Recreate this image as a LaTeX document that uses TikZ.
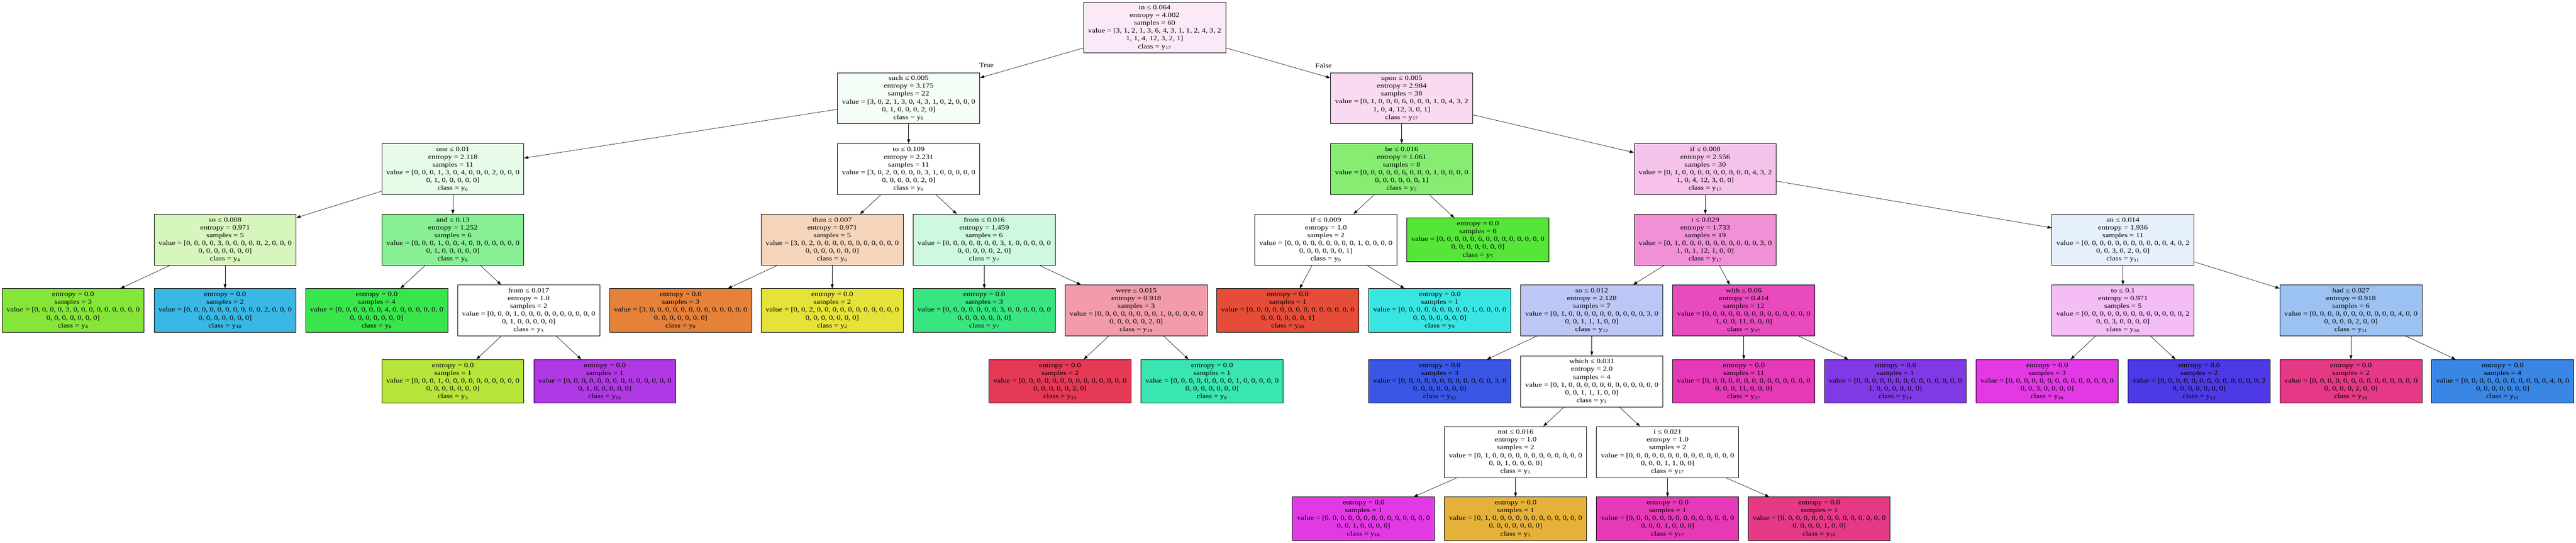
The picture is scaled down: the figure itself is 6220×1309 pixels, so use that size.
\documentclass[tikz,border=0pt]{standalone}
\usepackage{fontspec}
\setmainfont{Liberation Serif}[FakeStretch=1.2]
\usepackage{tikz}
\usetikzlibrary{arrows.meta}
\usepackage{xcolor}
\definecolor{cls0}{HTML}{E58139}
\definecolor{cls1}{HTML}{E5B139}
\definecolor{cls2}{HTML}{E5E239}
\definecolor{cls3}{HTML}{B7E539}
\definecolor{cls4}{HTML}{86E539}
\definecolor{cls5}{HTML}{56E539}
\definecolor{cls6}{HTML}{39E54D}
\definecolor{cls7}{HTML}{39E581}
\definecolor{cls8}{HTML}{39E5B1}
\definecolor{cls9}{HTML}{39E5E2}
\definecolor{cls10}{HTML}{39B7E5}
\definecolor{cls11}{HTML}{3986E5}
\definecolor{cls12}{HTML}{3956E5}
\definecolor{cls13}{HTML}{4D39E5}
\definecolor{cls14}{HTML}{8139E5}
\definecolor{cls15}{HTML}{B139E5}
\definecolor{cls16}{HTML}{E239E5}
\definecolor{cls17}{HTML}{E539B7}
\definecolor{cls18}{HTML}{E53986}
\definecolor{cls19}{HTML}{E53956}
\definecolor{cls20}{HTML}{E54D39}
\definecolor{n0}{HTML}{FCE9F7}
\definecolor{n1}{HTML}{F5FEF6}
\definecolor{n2}{HTML}{E6FCE9}
\definecolor{n3}{HTML}{D7F6BD}
\definecolor{n6}{HTML}{88EF94}
\definecolor{n12}{HTML}{F6D5BD}
\definecolor{n15}{HTML}{CEF8E0}
\definecolor{n17}{HTML}{F29CAA}
\definecolor{n20}{HTML}{FADAF1}
\definecolor{n21}{HTML}{86EC72}
\definecolor{n26}{HTML}{F7C2E9}
\definecolor{n27}{HTML}{F090D6}
\definecolor{n28}{HTML}{BDC7F6}
\definecolor{n37}{HTML}{E74BBE}
\definecolor{n40}{HTML}{E6F0FC}
\definecolor{n41}{HTML}{F5BDF6}
\definecolor{n44}{HTML}{9CC2F2}

\begin{document}
\begin{tikzpicture}[x=0.5pt, y=-0.5pt,
	main/.style = {draw, rectangle, line width=0.6pt, fill=white, align=center, inner sep=0pt, minimum width=171.5pt, minimum height=61.5pt, font=\fontsize{7.85}{9.4}\selectfont},
	leaf/.style = {main, minimum height=52.5pt},
	lbl/.style = {inner sep=0pt, font=\fontsize{7.85}{9.4}\selectfont},
	>={Triangle[length=5pt, width=3.5pt]}]
	\useasboundingbox (0,0) rectangle (6220,1309);
	\node[main, fill=n0] (0) at (2788,66.5) {in ≤ 0.064\\entropy = 4.002\\samples = 60\\value = [3, 1, 2, 1, 3, 6, 4, 3, 1, 1, 2, 4, 3, 2\\1, 1, 4, 12, 3, 2, 1]\\class = y\textsubscript{17}};
	\node[main, fill=n1] (1) at (2194,237) {such ≤ 0.005\\entropy = 3.175\\samples = 22\\value = [3, 0, 2, 1, 3, 0, 4, 3, 1, 0, 2, 0, 0, 0\\0, 1, 0, 0, 0, 2, 0]\\class = y\textsubscript{6}};
	\node[main, fill=n2] (2) at (1093.5,408) {one ≤ 0.01\\entropy = 2.118\\samples = 11\\value = [0, 0, 0, 1, 3, 0, 4, 0, 0, 0, 2, 0, 0, 0\\0, 1, 0, 0, 0, 0, 0]\\class = y\textsubscript{6}};
	\node[main, fill=n3] (3) at (543.5,578.5) {so ≤ 0.008\\entropy = 0.971\\samples = 5\\value = [0, 0, 0, 0, 3, 0, 0, 0, 0, 0, 2, 0, 0, 0\\0, 0, 0, 0, 0, 0, 0]\\class = y\textsubscript{4}};
	\node[leaf, fill=cls4] (4) at (176.5,749) {entropy = 0.0\\samples = 3\\value = [0, 0, 0, 0, 3, 0, 0, 0, 0, 0, 0, 0, 0, 0\\0, 0, 0, 0, 0, 0, 0]\\class = y\textsubscript{4}};
	\node[leaf, fill=cls10] (5) at (543.5,749) {entropy = 0.0\\samples = 2\\value = [0, 0, 0, 0, 0, 0, 0, 0, 0, 0, 2, 0, 0, 0\\0, 0, 0, 0, 0, 0, 0]\\class = y\textsubscript{10}};
	\node[main, fill=n6] (6) at (1093.5,578.5) {and ≤ 0.13\\entropy = 1.252\\samples = 6\\value = [0, 0, 0, 1, 0, 0, 4, 0, 0, 0, 0, 0, 0, 0\\0, 1, 0, 0, 0, 0, 0]\\class = y\textsubscript{6}};
	\node[leaf, fill=cls6] (7) at (909.5,749) {entropy = 0.0\\samples = 4\\value = [0, 0, 0, 0, 0, 0, 4, 0, 0, 0, 0, 0, 0, 0\\0, 0, 0, 0, 0, 0, 0]\\class = y\textsubscript{6}};
	\node[main] (8) at (1276.5,749) {from ≤ 0.017\\entropy = 1.0\\samples = 2\\value = [0, 0, 0, 1, 0, 0, 0, 0, 0, 0, 0, 0, 0, 0\\0, 1, 0, 0, 0, 0, 0]\\class = y\textsubscript{3}};
	\node[leaf, fill=cls3] (9) at (1093.5,920) {entropy = 0.0\\samples = 1\\value = [0, 0, 0, 1, 0, 0, 0, 0, 0, 0, 0, 0, 0, 0\\0, 0, 0, 0, 0, 0, 0]\\class = y\textsubscript{3}};
	\node[leaf, fill=cls15] (10) at (1460.5,920) {entropy = 0.0\\samples = 1\\value = [0, 0, 0, 0, 0, 0, 0, 0, 0, 0, 0, 0, 0, 0\\0, 1, 0, 0, 0, 0, 0]\\class = y\textsubscript{15}};
	\node[main] (11) at (2194,408) {to ≤ 0.109\\entropy = 2.231\\samples = 11\\value = [3, 0, 2, 0, 0, 0, 0, 3, 1, 0, 0, 0, 0, 0\\0, 0, 0, 0, 0, 2, 0]\\class = y\textsubscript{0}};
	\node[main, fill=n12] (12) at (2009.5,578.5) {than ≤ 0.007\\entropy = 0.971\\samples = 5\\value = [3, 0, 2, 0, 0, 0, 0, 0, 0, 0, 0, 0, 0, 0\\0, 0, 0, 0, 0, 0, 0]\\class = y\textsubscript{0}};
	\node[leaf, fill=cls0] (13) at (1643.5,749) {entropy = 0.0\\samples = 3\\value = [3, 0, 0, 0, 0, 0, 0, 0, 0, 0, 0, 0, 0, 0\\0, 0, 0, 0, 0, 0, 0]\\class = y\textsubscript{0}};
	\node[leaf, fill=cls2] (14) at (2009.5,749) {entropy = 0.0\\samples = 2\\value = [0, 0, 2, 0, 0, 0, 0, 0, 0, 0, 0, 0, 0, 0\\0, 0, 0, 0, 0, 0, 0]\\class = y\textsubscript{2}};
	\node[main, fill=n15] (15) at (2376.5,578.5) {from ≤ 0.016\\entropy = 1.459\\samples = 6\\value = [0, 0, 0, 0, 0, 0, 0, 3, 1, 0, 0, 0, 0, 0\\0, 0, 0, 0, 0, 2, 0]\\class = y\textsubscript{7}};
	\node[leaf, fill=cls7] (16) at (2376.5,749) {entropy = 0.0\\samples = 3\\value = [0, 0, 0, 0, 0, 0, 0, 3, 0, 0, 0, 0, 0, 0\\0, 0, 0, 0, 0, 0, 0]\\class = y\textsubscript{7}};
	\node[main, fill=n17] (17) at (2743.5,749) {were ≤ 0.015\\entropy = 0.918\\samples = 3\\value = [0, 0, 0, 0, 0, 0, 0, 0, 1, 0, 0, 0, 0, 0\\0, 0, 0, 0, 0, 2, 0]\\class = y\textsubscript{19}};
	\node[leaf, fill=cls19] (18) at (2559.5,920) {entropy = 0.0\\samples = 2\\value = [0, 0, 0, 0, 0, 0, 0, 0, 0, 0, 0, 0, 0, 0\\0, 0, 0, 0, 0, 2, 0]\\class = y\textsubscript{19}};
	\node[leaf, fill=cls8] (19) at (2926.5,920) {entropy = 0.0\\samples = 1\\value = [0, 0, 0, 0, 0, 0, 0, 0, 1, 0, 0, 0, 0, 0\\0, 0, 0, 0, 0, 0, 0]\\class = y\textsubscript{8}};
	\node[main, fill=n20] (20) at (3384.5,237) {upon ≤ 0.005\\entropy = 2.984\\samples = 38\\value = [0, 1, 0, 0, 0, 6, 0, 0, 0, 1, 0, 4, 3, 2\\1, 0, 4, 12, 3, 0, 1]\\class = y\textsubscript{17}};
	\node[main, fill=n21] (21) at (3384.5,408) {be ≤ 0.016\\entropy = 1.061\\samples = 8\\value = [0, 0, 0, 0, 0, 6, 0, 0, 0, 1, 0, 0, 0, 0\\0, 0, 0, 0, 0, 0, 1]\\class = y\textsubscript{5}};
	\node[main] (22) at (3201.5,578.5) {if ≤ 0.009\\entropy = 1.0\\samples = 2\\value = [0, 0, 0, 0, 0, 0, 0, 0, 0, 1, 0, 0, 0, 0\\0, 0, 0, 0, 0, 0, 1]\\class = y\textsubscript{9}};
	\node[leaf, fill=cls20] (23) at (3109.5,749) {entropy = 0.0\\samples = 1\\value = [0, 0, 0, 0, 0, 0, 0, 0, 0, 0, 0, 0, 0, 0\\0, 0, 0, 0, 0, 0, 1]\\class = y\textsubscript{20}};
	\node[leaf, fill=cls9] (24) at (3476.5,749) {entropy = 0.0\\samples = 1\\value = [0, 0, 0, 0, 0, 0, 0, 0, 0, 1, 0, 0, 0, 0\\0, 0, 0, 0, 0, 0, 0]\\class = y\textsubscript{9}};
	\node[leaf, fill=cls5] (25) at (3568.5,578.5) {entropy = 0.0\\samples = 6\\value = [0, 0, 0, 0, 0, 6, 0, 0, 0, 0, 0, 0, 0, 0\\0, 0, 0, 0, 0, 0, 0]\\class = y\textsubscript{5}};
	\node[main, fill=n26] (26) at (4117.5,408) {if ≤ 0.008\\entropy = 2.556\\samples = 30\\value = [0, 1, 0, 0, 0, 0, 0, 0, 0, 0, 0, 4, 3, 2\\1, 0, 4, 12, 3, 0, 0]\\class = y\textsubscript{17}};
	\node[main, fill=n27] (27) at (4117.5,578.5) {i ≤ 0.029\\entropy = 1.733\\samples = 19\\value = [0, 1, 0, 0, 0, 0, 0, 0, 0, 0, 0, 0, 3, 0\\1, 0, 1, 12, 1, 0, 0]\\class = y\textsubscript{17}};
	\node[main, fill=n28] (28) at (3843.5,749) {so ≤ 0.012\\entropy = 2.128\\samples = 7\\value = [0, 1, 0, 0, 0, 0, 0, 0, 0, 0, 0, 0, 3, 0\\0, 0, 1, 1, 1, 0, 0]\\class = y\textsubscript{12}};
	\node[leaf, fill=cls12] (29) at (3476.5,920) {entropy = 0.0\\samples = 3\\value = [0, 0, 0, 0, 0, 0, 0, 0, 0, 0, 0, 0, 3, 0\\0, 0, 0, 0, 0, 0, 0]\\class = y\textsubscript{12}};
	\node[main] (30) at (3843.5,920) {which ≤ 0.031\\entropy = 2.0\\samples = 4\\value = [0, 1, 0, 0, 0, 0, 0, 0, 0, 0, 0, 0, 0, 0\\0, 0, 1, 1, 1, 0, 0]\\class = y\textsubscript{1}};
	\node[main] (31) at (3659.5,1090.5) {not ≤ 0.016\\entropy = 1.0\\samples = 2\\value = [0, 1, 0, 0, 0, 0, 0, 0, 0, 0, 0, 0, 0, 0\\0, 0, 1, 0, 0, 0, 0]\\class = y\textsubscript{1}};
	\node[leaf, fill=cls16] (32) at (3292.5,1251.5) {entropy = 0.0\\samples = 1\\value = [0, 0, 0, 0, 0, 0, 0, 0, 0, 0, 0, 0, 0, 0\\0, 0, 1, 0, 0, 0, 0]\\class = y\textsubscript{16}};
	\node[leaf, fill=cls1] (33) at (3659.5,1251.5) {entropy = 0.0\\samples = 1\\value = [0, 1, 0, 0, 0, 0, 0, 0, 0, 0, 0, 0, 0, 0\\0, 0, 0, 0, 0, 0, 0]\\class = y\textsubscript{1}};
	\node[main] (34) at (4026.5,1090.5) {i ≤ 0.021\\entropy = 1.0\\samples = 2\\value = [0, 0, 0, 0, 0, 0, 0, 0, 0, 0, 0, 0, 0, 0\\0, 0, 0, 1, 1, 0, 0]\\class = y\textsubscript{17}};
	\node[leaf, fill=cls17] (35) at (4026.5,1251.5) {entropy = 0.0\\samples = 1\\value = [0, 0, 0, 0, 0, 0, 0, 0, 0, 0, 0, 0, 0, 0\\0, 0, 0, 1, 0, 0, 0]\\class = y\textsubscript{17}};
	\node[leaf, fill=cls18] (36) at (4392.5,1251.5) {entropy = 0.0\\samples = 1\\value = [0, 0, 0, 0, 0, 0, 0, 0, 0, 0, 0, 0, 0, 0\\0, 0, 0, 0, 1, 0, 0]\\class = y\textsubscript{18}};
	\node[main, fill=n37] (37) at (4210.5,749) {with ≤ 0.06\\entropy = 0.414\\samples = 12\\value = [0, 0, 0, 0, 0, 0, 0, 0, 0, 0, 0, 0, 0, 0\\1, 0, 0, 11, 0, 0, 0]\\class = y\textsubscript{17}};
	\node[leaf, fill=cls17] (38) at (4210.5,920) {entropy = 0.0\\samples = 11\\value = [0, 0, 0, 0, 0, 0, 0, 0, 0, 0, 0, 0, 0, 0\\0, 0, 0, 11, 0, 0, 0]\\class = y\textsubscript{17}};
	\node[leaf, fill=cls14] (39) at (4576.5,920) {entropy = 0.0\\samples = 1\\value = [0, 0, 0, 0, 0, 0, 0, 0, 0, 0, 0, 0, 0, 0\\1, 0, 0, 0, 0, 0, 0]\\class = y\textsubscript{14}};
	\node[main, fill=n40] (40) at (5126,578.5) {an ≤ 0.014\\entropy = 1.936\\samples = 11\\value = [0, 0, 0, 0, 0, 0, 0, 0, 0, 0, 0, 4, 0, 2\\0, 0, 3, 0, 2, 0, 0]\\class = y\textsubscript{11}};
	\node[main, fill=n41] (41) at (5126,749) {to ≤ 0.1\\entropy = 0.971\\samples = 5\\value = [0, 0, 0, 0, 0, 0, 0, 0, 0, 0, 0, 0, 0, 2\\0, 0, 3, 0, 0, 0, 0]\\class = y\textsubscript{16}};
	\node[leaf, fill=cls16] (42) at (4943,920) {entropy = 0.0\\samples = 3\\value = [0, 0, 0, 0, 0, 0, 0, 0, 0, 0, 0, 0, 0, 0\\0, 0, 3, 0, 0, 0, 0]\\class = y\textsubscript{16}};
	\node[leaf, fill=cls13] (43) at (5310,920) {entropy = 0.0\\samples = 2\\value = [0, 0, 0, 0, 0, 0, 0, 0, 0, 0, 0, 0, 0, 2\\0, 0, 0, 0, 0, 0, 0]\\class = y\textsubscript{13}};
	\node[main, fill=n44] (44) at (5676.5,749) {had ≤ 0.027\\entropy = 0.918\\samples = 6\\value = [0, 0, 0, 0, 0, 0, 0, 0, 0, 0, 0, 4, 0, 0\\0, 0, 0, 0, 2, 0, 0]\\class = y\textsubscript{11}};
	\node[leaf, fill=cls18] (45) at (5676.5,920) {entropy = 0.0\\samples = 2\\value = [0, 0, 0, 0, 0, 0, 0, 0, 0, 0, 0, 0, 0, 0\\0, 0, 0, 0, 2, 0, 0]\\class = y\textsubscript{18}};
	\node[leaf, fill=cls11] (46) at (6043,920) {entropy = 0.0\\samples = 4\\value = [0, 0, 0, 0, 0, 0, 0, 0, 0, 0, 0, 4, 0, 0\\0, 0, 0, 0, 0, 0, 0]\\class = y\textsubscript{11}};
	\node[lbl] (t) at (2382,157) {True};
	\node[lbl] (f) at (3196,158) {False};
	\draw[->] (0) -- (1);
	\draw[->] (0) -- (20);
	\draw[->] (1) -- (2);
	\draw[->] (1) -- (11);
	\draw[->] (2) -- (3);
	\draw[->] (2) -- (6);
	\draw[->] (3) -- (4);
	\draw[->] (3) -- (5);
	\draw[->] (6) -- (7);
	\draw[->] (6) -- (8);
	\draw[->] (8) -- (9);
	\draw[->] (8) -- (10);
	\draw[->] (11) -- (12);
	\draw[->] (11) -- (15);
	\draw[->] (12) -- (13);
	\draw[->] (12) -- (14);
	\draw[->] (15) -- (16);
	\draw[->] (15) -- (17);
	\draw[->] (17) -- (18);
	\draw[->] (17) -- (19);
	\draw[->] (20) -- (21);
	\draw[->] (20) -- (26);
	\draw[->] (21) -- (22);
	\draw[->] (21) -- (25);
	\draw[->] (22) -- (23);
	\draw[->] (22) -- (24);
	\draw[->] (26) -- (27);
	\draw[->] (26) -- (40);
	\draw[->] (27) -- (28);
	\draw[->] (27) -- (37);
	\draw[->] (28) -- (29);
	\draw[->] (28) -- (30);
	\draw[->] (30) -- (31);
	\draw[->] (30) -- (34);
	\draw[->] (31) -- (32);
	\draw[->] (31) -- (33);
	\draw[->] (34) -- (35);
	\draw[->] (34) -- (36);
	\draw[->] (37) -- (38);
	\draw[->] (37) -- (39);
	\draw[->] (40) -- (41);
	\draw[->] (40) -- (44);
	\draw[->] (41) -- (42);
	\draw[->] (41) -- (43);
	\draw[->] (44) -- (45);
	\draw[->] (44) -- (46);
\end{tikzpicture}
\end{document}
